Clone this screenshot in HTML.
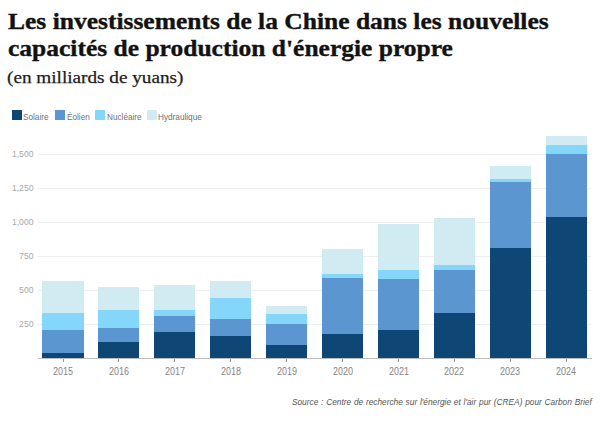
<!DOCTYPE html>
<html><head><meta charset="utf-8">
<style>
html,body{margin:0;padding:0;background:#fff;}
body{width:600px;height:426px;position:relative;overflow:hidden;}
.t{position:absolute;left:8px;font-family:"Liberation Serif",serif;font-weight:bold;color:#121212;white-space:nowrap;-webkit-text-stroke:0.35px #121212;}
.st{position:absolute;left:7px;font-family:"Liberation Serif",serif;color:#1c1c1c;white-space:nowrap;-webkit-text-stroke:0.25px #1c1c1c;}
.lg{position:absolute;top:110.3px;width:10.2px;height:10px;}
.lt{position:absolute;top:112px;font-family:"Liberation Sans",sans-serif;font-size:9.6px;color:#707070;white-space:nowrap;line-height:10px;transform:scaleX(0.855);transform-origin:0 0;}
.g{position:absolute;left:38px;width:553px;height:1px;background:#eeeeee;}
.yl{position:absolute;left:0;width:33.5px;text-align:right;font-family:"Liberation Sans",sans-serif;font-size:9.4px;line-height:12px;color:#a8a8a8;transform:scaleX(0.92);transform-origin:100% 0;}
.b{position:absolute;}
.ax{position:absolute;left:37.5px;top:358px;width:554px;height:1px;background:#bdbdbd;}
.tk{position:absolute;top:358px;width:1px;height:3.5px;background:#999;}
.xl{position:absolute;top:365.6px;width:40px;text-align:center;font-family:"Liberation Sans",sans-serif;font-size:10px;line-height:12px;color:#858585;transform:scaleX(0.9);}
.src{position:absolute;right:8.3px;top:397px;word-spacing:0.5px;font-family:"Liberation Sans",sans-serif;font-style:italic;font-size:8.3px;line-height:10px;color:#555;white-space:nowrap;}
</style></head><body>
<div class="t" id="t1" style="top:7.5px;font-size:23px;line-height:28px;transform:scaleX(1.109);transform-origin:0 0;">Les investissements de la Chine dans les nouvelles</div>
<div class="t" id="t2" style="top:35px;font-size:23px;line-height:28px;transform:scaleX(1.109);transform-origin:0 0;">capacités de production d'énergie propre</div>
<div class="st" id="t3" style="top:65.7px;font-size:17px;line-height:24px;transform:scaleX(1.129);transform-origin:0 0;">(en milliards de yuans)</div>
<div class="lg" style="left:11.5px;background:#0e4675"></div><div class="lt" style="left:22.8px">Solaire</div>
<div class="lg" style="left:54.9px;background:#5c96d1"></div><div class="lt" style="left:67.3px">Éolien</div>
<div class="lg" style="left:95.2px;background:#84d6fb"></div><div class="lt" style="left:107px">Nucléaire</div>
<div class="lg" style="left:146.5px;background:#d1ebf3"></div><div class="lt" style="left:158px">Hydraulique</div>
<div class="g" style="top:323.5px"></div>
<div class="yl" style="top:318.0px">250</div>
<div class="g" style="top:289.5px"></div>
<div class="yl" style="top:284.0px">500</div>
<div class="g" style="top:255.5px"></div>
<div class="yl" style="top:250.0px">750</div>
<div class="g" style="top:221.5px"></div>
<div class="yl" style="top:216.0px">1,000</div>
<div class="g" style="top:187.5px"></div>
<div class="yl" style="top:182.0px">1,250</div>
<div class="g" style="top:153.5px"></div>
<div class="yl" style="top:148.0px">1,500</div>
<div class="b" style="left:42.2px;top:281.0px;width:41.4px;height:77.0px;background:#d1ebf3"></div>
<div class="b" style="left:42.2px;top:312.5px;width:41.4px;height:45.5px;background:#84d6fb"></div>
<div class="b" style="left:42.2px;top:329.9px;width:41.4px;height:28.1px;background:#5c96d1"></div>
<div class="b" style="left:42.2px;top:352.6px;width:41.4px;height:5.4px;background:#0e4675"></div>
<div class="tk" style="left:62.5px"></div>
<div class="xl" style="left:42.9px">2015</div>
<div class="b" style="left:98.1px;top:286.9px;width:41.4px;height:71.1px;background:#d1ebf3"></div>
<div class="b" style="left:98.1px;top:310.4px;width:41.4px;height:47.6px;background:#84d6fb"></div>
<div class="b" style="left:98.1px;top:328.0px;width:41.4px;height:30.0px;background:#5c96d1"></div>
<div class="b" style="left:98.1px;top:342.0px;width:41.4px;height:16.0px;background:#0e4675"></div>
<div class="tk" style="left:118.4px"></div>
<div class="xl" style="left:98.8px">2016</div>
<div class="b" style="left:154.1px;top:285.3px;width:41.4px;height:72.7px;background:#d1ebf3"></div>
<div class="b" style="left:154.1px;top:310.4px;width:41.4px;height:47.6px;background:#84d6fb"></div>
<div class="b" style="left:154.1px;top:316.0px;width:41.4px;height:42.0px;background:#5c96d1"></div>
<div class="b" style="left:154.1px;top:332.2px;width:41.4px;height:25.8px;background:#0e4675"></div>
<div class="tk" style="left:174.4px"></div>
<div class="xl" style="left:154.8px">2017</div>
<div class="b" style="left:210.0px;top:280.6px;width:41.4px;height:77.4px;background:#d1ebf3"></div>
<div class="b" style="left:210.0px;top:297.5px;width:41.4px;height:60.5px;background:#84d6fb"></div>
<div class="b" style="left:210.0px;top:318.8px;width:41.4px;height:39.2px;background:#5c96d1"></div>
<div class="b" style="left:210.0px;top:336.2px;width:41.4px;height:21.8px;background:#0e4675"></div>
<div class="tk" style="left:230.3px"></div>
<div class="xl" style="left:210.7px">2018</div>
<div class="b" style="left:265.9px;top:305.7px;width:41.4px;height:52.3px;background:#d1ebf3"></div>
<div class="b" style="left:265.9px;top:314.1px;width:41.4px;height:43.9px;background:#84d6fb"></div>
<div class="b" style="left:265.9px;top:324.0px;width:41.4px;height:34.0px;background:#5c96d1"></div>
<div class="b" style="left:265.9px;top:345.1px;width:41.4px;height:12.9px;background:#0e4675"></div>
<div class="tk" style="left:286.2px"></div>
<div class="xl" style="left:266.6px">2019</div>
<div class="b" style="left:321.8px;top:248.6px;width:41.4px;height:109.4px;background:#d1ebf3"></div>
<div class="b" style="left:321.8px;top:274.4px;width:41.4px;height:83.6px;background:#84d6fb"></div>
<div class="b" style="left:321.8px;top:277.5px;width:41.4px;height:80.5px;background:#5c96d1"></div>
<div class="b" style="left:321.8px;top:333.9px;width:41.4px;height:24.1px;background:#0e4675"></div>
<div class="tk" style="left:342.1px"></div>
<div class="xl" style="left:322.5px">2020</div>
<div class="b" style="left:377.8px;top:223.5px;width:41.4px;height:134.5px;background:#d1ebf3"></div>
<div class="b" style="left:377.8px;top:270.0px;width:41.4px;height:88.0px;background:#84d6fb"></div>
<div class="b" style="left:377.8px;top:278.8px;width:41.4px;height:79.2px;background:#5c96d1"></div>
<div class="b" style="left:377.8px;top:329.9px;width:41.4px;height:28.1px;background:#0e4675"></div>
<div class="tk" style="left:398.1px"></div>
<div class="xl" style="left:378.5px">2021</div>
<div class="b" style="left:433.7px;top:217.6px;width:41.4px;height:140.4px;background:#d1ebf3"></div>
<div class="b" style="left:433.7px;top:265.0px;width:41.4px;height:93.0px;background:#84d6fb"></div>
<div class="b" style="left:433.7px;top:270.4px;width:41.4px;height:87.6px;background:#5c96d1"></div>
<div class="b" style="left:433.7px;top:312.7px;width:41.4px;height:45.3px;background:#0e4675"></div>
<div class="tk" style="left:454.0px"></div>
<div class="xl" style="left:434.4px">2022</div>
<div class="b" style="left:489.6px;top:165.9px;width:41.4px;height:192.1px;background:#d1ebf3"></div>
<div class="b" style="left:489.6px;top:178.9px;width:41.4px;height:179.1px;background:#84d6fb"></div>
<div class="b" style="left:489.6px;top:182.3px;width:41.4px;height:175.7px;background:#5c96d1"></div>
<div class="b" style="left:489.6px;top:248.0px;width:41.4px;height:110.0px;background:#0e4675"></div>
<div class="tk" style="left:509.9px"></div>
<div class="xl" style="left:490.3px">2023</div>
<div class="b" style="left:545.6px;top:136.0px;width:41.4px;height:222.0px;background:#d1ebf3"></div>
<div class="b" style="left:545.6px;top:144.6px;width:41.4px;height:213.4px;background:#84d6fb"></div>
<div class="b" style="left:545.6px;top:154.2px;width:41.4px;height:203.8px;background:#5c96d1"></div>
<div class="b" style="left:545.6px;top:216.9px;width:41.4px;height:141.1px;background:#0e4675"></div>
<div class="tk" style="left:565.9px"></div>
<div class="xl" style="left:546.3px">2024</div>
<div class="ax"></div>
<div class="src">Source : Centre de recherche sur l'énergie et l'air pur (CREA) pour Carbon Brief</div>
</body></html>
